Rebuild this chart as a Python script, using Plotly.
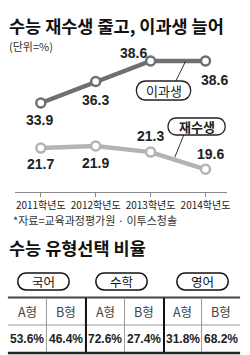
import plotly.graph_objects as go

# ---- data ----
years = ["2011학년도", "2012학년도", "2013학년도", "2014학년도"]
science = [33.9, 36.3, 38.6, 38.6]      # 이과생
repeaters = [21.7, 21.9, 21.3, 19.6]    # 재수생
subjects = ["국어", "수학", "영어"]
types = ["A형", "B형"]
shares = [[53.6, 46.4], [72.6, 27.4], [31.8, 68.2]]

W, H = 250, 355
KR = "Noto Sans CJK KR"
NUM = "Liberation Sans Narrow, Liberation Sans, Arial"


def px(x):
    return x / W


def py(y):
    return 1 - y / H


def pill_path(x0, y0, x1, y1):
    r = (y1 - y0) / 2
    k = 4 / 3 * r
    pts = [
        f"M {px(x0 + r)},{py(y0)}",
        f"L {px(x1 - r)},{py(y0)}",
        f"C {px(x1 - r + k)},{py(y0)} {px(x1 - r + k)},{py(y1)} {px(x1 - r)},{py(y1)}",
        f"L {px(x0 + r)},{py(y1)}",
        f"C {px(x0 + r - k)},{py(y1)} {px(x0 + r - k)},{py(y0)} {px(x0 + r)},{py(y0)}",
        "Z",
    ]
    return " ".join(pts)


def txt(x, y, text, font, xanchor="center"):
    return dict(x=px(x), y=py(y), xref="paper", yref="paper", text=text, showarrow=False,
                xanchor=xanchor, yanchor="middle", font=font)


fig = go.Figure()
xi = list(range(len(years)))
C1, C2 = "#6f6f6f", "#b3b3b3"
fig.add_trace(go.Scatter(
    x=xi, y=science, mode="lines+markers", yaxis="y", cliponaxis=False,
    line=dict(color=C1, width=4.5),
    marker=dict(size=9, color="white", line=dict(color=C1, width=2.5)),
    hoverinfo="skip", showlegend=False))
fig.add_trace(go.Scatter(
    x=xi, y=repeaters, mode="lines+markers", yaxis="y2", cliponaxis=False,
    line=dict(color=C2, width=4.5),
    marker=dict(size=9, color="white", line=dict(color=C2, width=2.5)),
    hoverinfo="skip", showlegend=False))

ann = []
shapes = []

# value labels (offsets in px)
off1 = [(-1, 17), (0, 18), (-17, -8), (9, 19)]
off2 = [(0, 16), (0, 17), (0, -16), (5, -15)]
for i, v in enumerate(science):
    ann.append(dict(x=i, y=v, xref="x", yref="y", text=f"{v:.1f}", showarrow=False,
                    xanchor="center", yanchor="middle",
                    xshift=off1[i][0], yshift=-off1[i][1],
                    font=dict(family=NUM, size=14, color="#222", weight="bold")))
for i, v in enumerate(repeaters):
    ann.append(dict(x=i, y=v, xref="x", yref="y2", text=f"{v:.1f}", showarrow=False,
                    xanchor="center", yanchor="middle",
                    xshift=off2[i][0], yshift=-off2[i][1],
                    font=dict(family=NUM, size=14, color="#222", weight="bold")))

# titles
ann.append(txt(7, 25, "<b>수능 재수생 줄고, 이과생 늘어</b>", dict(family=KR, size=17.5, color="#111"), "left"))
ann.append(txt(7, 46, "(단위=%)", dict(family=KR, size=11, color="#333"), "left"))
ann.append(txt(11, 220, "*자료=교육과정평가원 · 이투스청솔", dict(family=KR, size=11, color="#333"), "left"))
ann.append(txt(7, 247, "<b>수능 유형선택 비율</b>", dict(family=KR, size=17.5, color="#111"), "left"))

# series callouts
shapes.append(dict(type="line", xref="paper", yref="paper", x0=px(188), y0=py(61), x1=px(178), y1=py(81),
                   line=dict(color="#333", width=1)))
shapes.append(dict(type="path", xref="paper", yref="paper", path=pill_path(138, 81, 193, 100),
                   fillcolor="white", line=dict(color="#222", width=1.3)))
ann.append(txt(165.5, 90.5, "이과생", dict(family=KR, size=13, color="#222")))
shapes.append(dict(type="line", xref="paper", yref="paper", x0=px(177), y0=py(157), x1=px(186), y1=py(135),
                   line=dict(color="#333", width=1)))
shapes.append(dict(type="path", xref="paper", yref="paper", path=pill_path(170, 118, 228, 135),
                   fillcolor="white", line=dict(color="#222", width=1.3)))
ann.append(txt(199, 126.5, "<b>재수생</b>", dict(family=KR, size=13, color="#222")))

# ---- table ----
col_edges = [8, 47, 87, 126, 166, 204, 243]
pill_centers = [44, 123, 205]
for s, cx in zip(subjects, pill_centers):
    shapes.append(dict(type="path", xref="paper", yref="paper", path=pill_path(cx - 26, 273, cx + 26, 290),
                       fillcolor="white", line=dict(color="#111", width=1.5)))
    ann.append(txt(cx, 281.5, s, dict(family=KR, size=12.5, color="#111")))

shapes.append(dict(type="line", xref="paper", yref="paper", x0=px(8), x1=px(243), y0=py(297.5), y1=py(297.5),
                   line=dict(color="#444", width=2)))
shapes.append(dict(type="line", xref="paper", yref="paper", x0=px(8), x1=px(243), y0=py(325), y1=py(325),
                   line=dict(color="#999", width=1)))
shapes.append(dict(type="line", xref="paper", yref="paper", x0=px(8), x1=px(243), y0=py(353), y1=py(353),
                   line=dict(color="#222", width=2.5)))
for j, xe in enumerate(col_edges[1:-1]):
    thick = (j % 2 == 1)
    shapes.append(dict(type="line", xref="paper", yref="paper", x0=px(xe), x1=px(xe), y0=py(298), y1=py(352),
                       line=dict(color="#111" if thick else "#999", width=2 if thick else 1)))

k = 0
for si, s in enumerate(subjects):
    for ti, t in enumerate(types):
        cx = (col_edges[k] + col_edges[k + 1]) / 2
        ann.append(txt(cx, 311, t, dict(family=KR, size=12.5, color="#444")))
        ann.append(txt(cx, 339, f"<b>{shares[si][ti]:.1f}%</b>", dict(family=NUM, size=12, color="#222")))
        k += 1

fig.update_layout(
    width=W, height=H, margin=dict(l=0, r=0, t=0, b=0),
    paper_bgcolor="white", plot_bgcolor="white",
    xaxis=dict(domain=[px(15), px(230)], range=[-0.473, 3.396], tickvals=xi, ticktext=years,
               showline=True, linecolor="#888", linewidth=1, ticks="outside", ticklen=4,
               tickcolor="#888", showgrid=False, zeroline=False, anchor="y",
               tickfont=dict(family=KR, size=10, color="#222")),
    yaxis=dict(domain=[1 - 191.7 / H, 1], range=[23.98, 45.42], visible=False, fixedrange=True),
    yaxis2=dict(overlaying="y", range=[17.38, 36.36], visible=False),
    annotations=ann, shapes=shapes,
)
fig.write_html("out.html")
